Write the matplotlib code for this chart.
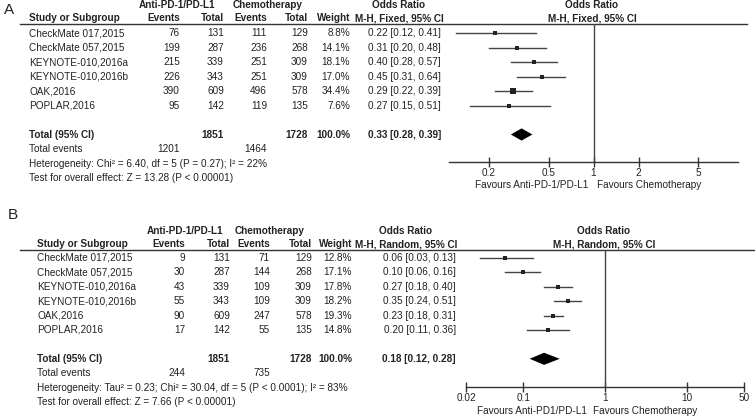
import numpy as np
import matplotlib
matplotlib.use("Agg")
import matplotlib.pyplot as plt

plt.rcParams['font.family'] = ['Liberation Sans', 'DejaVu Sans']

studies = ["CheckMate 017,2015", "CheckMate 057,2015", "KEYNOTE-010,2016a",
           "KEYNOTE-010,2016b", "OAK,2016", "POPLAR,2016"]
exp_total = [131, 287, 339, 343, 609, 142]
ctl_total = [129, 268, 309, 309, 578, 135]

# panel A (fixed effect)
exp_events_a = [76, 199, 215, 226, 390, 95]
ctl_events_a = [111, 236, 251, 251, 496, 119]
weight_a = [8.8, 14.1, 18.1, 17.0, 34.4, 7.6]
or_a = [0.22, 0.31, 0.40, 0.45, 0.29, 0.27]
lo_a = [0.12, 0.20, 0.28, 0.31, 0.22, 0.15]
hi_a = [0.41, 0.48, 0.57, 0.64, 0.39, 0.51]
pooled_a = [0.33, 0.28, 0.39]
tot_events_a = [1201, 1464]
het_a = "Heterogeneity: Chi² = 6.40, df = 5 (P = 0.27); I² = 22%"
test_a = "Test for overall effect: Z = 13.28 (P < 0.00001)"
ticks_a = [0.2, 0.5, 1, 2, 5]
ticklabels_a = ["0.2", "0.5", "1", "2", "5"]

# panel B (random effects)
exp_events_b = [9, 30, 43, 55, 90, 17]
ctl_events_b = [71, 144, 109, 109, 247, 55]
weight_b = [12.8, 17.1, 17.8, 18.2, 19.3, 14.8]
or_b = [0.06, 0.10, 0.27, 0.35, 0.23, 0.20]
lo_b = [0.03, 0.06, 0.18, 0.24, 0.18, 0.11]
hi_b = [0.13, 0.16, 0.40, 0.51, 0.31, 0.36]
pooled_b = [0.18, 0.12, 0.28]
tot_events_b = [244, 735]
het_b = "Heterogeneity: Tau² = 0.23; Chi² = 30.04, df = 5 (P < 0.0001); I² = 83%"
test_b = "Test for overall effect: Z = 7.66 (P < 0.00001)"
ticks_b = [0.02, 0.1, 1, 10, 50]
ticklabels_b = ["0.02", "0.1", "1", "10", "50"]

W, H = 755, 417
FS = 7.2
TC = "#222222"

fig = plt.figure(figsize=(W / 100, H / 100), dpi=100)
ax = fig.add_axes([0, 0, 1, 1])
ax.set_xlim(0, W)
ax.set_ylim(H, 0)
ax.axis('off')


def txt(x, y, s, ha='left', bold=False, size=FS):
    ax.text(x, y, s, ha=ha, va='center', fontsize=size, color=TC,
            fontweight='bold' if bold else 'normal')


def panel(letter, lx, ly, y0, dy, cols, ev_e, ev_c, wt, orv, lo, hi, pooled, tot_ev,
          het, test, model, fx, xlim, ticks, ticklabels, line_y, axis_y,
          hdr_or1, hdr_or2, anti_c, chem_c, fav1, fav2, fav_lbl, sq_k, line_end):
    txt(lx, ly, letter, size=11)
    h1 = line_y - 19
    h2 = line_y - 6
    txt(anti_c, h1, "Anti-PD-1/PD-L1", ha='center', bold=True)
    txt(chem_c, h1, "Chemotherapy", ha='center', bold=True)
    txt(hdr_or1, h1, "Odds Ratio", ha='center', bold=True)
    txt(hdr_or2, h1, "Odds Ratio", ha='center', bold=True)
    txt(cols[0], h2, "Study or Subgroup", bold=True)
    txt(cols[1], h2, "Events", ha='right', bold=True)
    txt(cols[2], h2, "Total", ha='right', bold=True)
    txt(cols[3], h2, "Events", ha='right', bold=True)
    txt(cols[4], h2, "Total", ha='right', bold=True)
    txt(cols[5], h2, "Weight", ha='right', bold=True)
    txt(hdr_or1, h2, "M-H, " + model + ", 95% CI", ha='center', bold=True)
    txt(hdr_or2, h2, "M-H, " + model + ", 95% CI", ha='center', bold=True)
    ax.plot([20, line_end], [line_y, line_y], color="#333333", lw=1.0)

    for i in range(len(studies)):
        y = y0 + i * dy
        txt(cols[0], y, studies[i])
        txt(cols[1], y, str(ev_e[i]), ha='right')
        txt(cols[2], y, str(exp_total[i]), ha='right')
        txt(cols[3], y, str(ev_c[i]), ha='right')
        txt(cols[4], y, str(ctl_total[i]), ha='right')
        txt(cols[5], y, "%.1f%%" % wt[i], ha='right')
        txt(cols[6], y, "%.2f [%.2f, %.2f]" % (orv[i], lo[i], hi[i]), ha='right')

    yt = y0 + 7 * dy
    txt(cols[0], yt, "Total (95% CI)", bold=True)
    txt(cols[2], yt, str(sum(exp_total)), ha='right', bold=True)
    txt(cols[4], yt, str(sum(ctl_total)), ha='right', bold=True)
    txt(cols[5], yt, "100.0%", ha='right', bold=True)
    txt(cols[6], yt, "%.2f [%.2f, %.2f]" % tuple(pooled), ha='right', bold=True)
    txt(cols[0], yt + dy, "Total events")
    txt(cols[1], yt + dy, str(tot_ev[0]), ha='right')
    txt(cols[3], yt + dy, str(tot_ev[1]), ha='right')
    txt(cols[0], yt + 2 * dy, het)
    txt(cols[0], yt + 3 * dy, test)

    # forest part
    top_i = (line_y - y0) / dy
    bot_i = (axis_y - y0) / dy
    fa = fig.add_axes([fx[0] / W, 1 - axis_y / H, (fx[1] - fx[0]) / W, (axis_y - line_y) / H])
    fa.set_xscale('log')
    fa.set_xlim(xlim)
    fa.set_ylim(bot_i, top_i)
    fa.patch.set_alpha(0)
    for s in ['top', 'right', 'left']:
        fa.spines[s].set_visible(False)
    fa.spines['bottom'].set_color("#333333")
    fa.spines['bottom'].set_linewidth(1.0)
    fa.set_yticks([])
    fa.set_xticks(ticks)
    fa.set_xticklabels(ticklabels)
    fa.minorticks_off()
    fa.tick_params(axis='x', direction='inout', length=7, width=1.0, color="#333333",
                   labelsize=FS, labelcolor=TC, pad=0.5)
    fa.axvline(1, color="#444444", lw=1.0)
    for i in range(len(studies)):
        fa.plot([lo[i], hi[i]], [i, i], color="#444444", lw=1.0)
        fa.plot(orv[i], i, marker='s', color="#222222", ms=sq_k * np.sqrt(wt[i]) * 0.72, mew=0)
    est, plo, phi = pooled
    fa.fill([plo, est, phi, est], [7, 7 - 0.42, 7, 7 + 0.42], color="black", lw=0)

    txt(fav1[0], fav_lbl, fav1[1], ha='right')
    txt(fav2, fav_lbl, "Favours Chemotherapy")


panel("A", 4, 10, 33, 14.5, [29, 180, 224, 267, 308, 350, 441],
      exp_events_a, ctl_events_a, weight_a, or_a, lo_a, hi_a, pooled_a, tot_events_a,
      het_a, test_a, "Fixed", [449, 738], (0.108, 9.25), ticks_a, ticklabels_a,
      24, 162, 399, 592, 177, 268, (588, "Favours Anti-PD-1/PD-L1"), 597, 185,
      1.14, 747)

panel("B", 8, 215, 258, 14.4, [37, 185, 230, 270, 312, 352, 456],
      exp_events_b, ctl_events_b, weight_b, or_b, lo_b, hi_b, pooled_b, tot_events_b,
      het_b, test_b, "Random", [466, 744], (0.02, 50), ticks_b, ticklabels_b,
      250, 387, 406, 604, 185, 270, (587, "Favours Anti-PD1/PD-L1"), 593, 411,
      1.0, 755)

fig.savefig("out.png", dpi=100)
